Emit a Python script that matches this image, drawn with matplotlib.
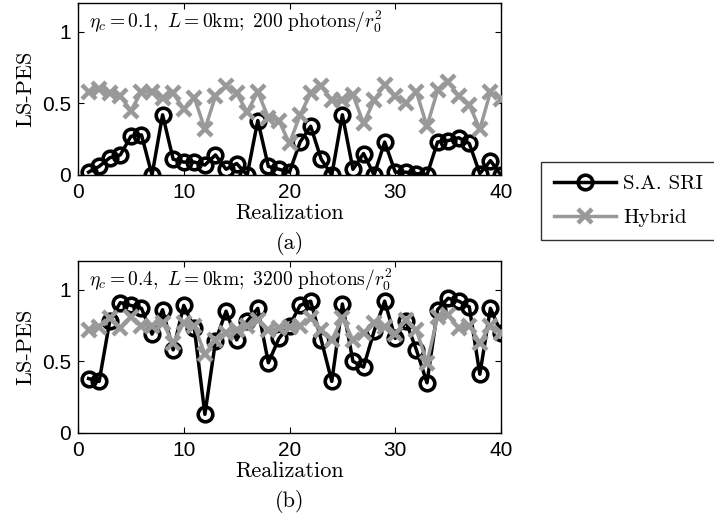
import matplotlib
matplotlib.use("Agg")
import matplotlib.pyplot as plt

plt.rcParams["mathtext.fontset"] = "cm"

realization = list(range(1, 41))

sri_a = [0.02, 0.06, 0.12, 0.14, 0.27, 0.28, 0.00, 0.42, 0.11, 0.09,
         0.09, 0.07, 0.14, 0.04, 0.08, 0.00, 0.38, 0.06, 0.04, 0.02,
         0.23, 0.34, 0.11, 0.00, 0.42, 0.04, 0.15, 0.00, 0.23, 0.02,
         0.02, 0.01, 0.00, 0.23, 0.24, 0.26, 0.22, 0.01, 0.10, 0.00]
hybrid_a = [0.58, 0.60, 0.57, 0.55, 0.45, 0.58, 0.58, 0.54, 0.57, 0.46,
            0.54, 0.32, 0.55, 0.62, 0.57, 0.44, 0.58, 0.40, 0.38, 0.22,
            0.42, 0.57, 0.62, 0.52, 0.52, 0.56, 0.36, 0.52, 0.63, 0.55,
            0.50, 0.58, 0.34, 0.59, 0.65, 0.55, 0.49, 0.32, 0.58, 0.53]

sri_b = [0.38, 0.36, 0.78, 0.91, 0.89, 0.87, 0.69, 0.86, 0.58, 0.89,
         0.73, 0.13, 0.64, 0.85, 0.65, 0.78, 0.87, 0.49, 0.66, 0.75,
         0.89, 0.92, 0.65, 0.36, 0.90, 0.50, 0.46, 0.71, 0.92, 0.66,
         0.78, 0.58, 0.35, 0.86, 0.94, 0.92, 0.88, 0.41, 0.87, 0.70]
hybrid_b = [0.72, 0.74, 0.80, 0.73, 0.81, 0.75, 0.75, 0.77, 0.63, 0.77,
            0.75, 0.55, 0.65, 0.70, 0.72, 0.75, 0.79, 0.72, 0.73, 0.74,
            0.75, 0.80, 0.72, 0.65, 0.80, 0.65, 0.70, 0.77, 0.74, 0.69,
            0.79, 0.72, 0.49, 0.81, 0.82, 0.73, 0.75, 0.63, 0.75, 0.70]

panels = [
    (sri_a, hybrid_a, r"$\eta_c = 0.1,\ L = 0\mathrm{km};\ 200\ \mathrm{photons}/r_0^2$", "(a)"),
    (sri_b, hybrid_b, r"$\eta_c = 0.4,\ L = 0\mathrm{km};\ 3200\ \mathrm{photons}/r_0^2$", "(b)"),
]

W, H = 714, 531
fig = plt.figure(figsize=(W / 100, H / 100), dpi=100)

gray = "#999999"
serif = "cmr10"
tick_font = "Liberation Sans"

axes_px = [(3, 175), (261, 433)]
handles = None
for (sri, hyb, note, tag), (top, bot) in zip(panels, axes_px):
    ax = fig.add_axes([78 / W, 1 - bot / H, 423 / W, (bot - top) / H])
    l1, = ax.plot(realization, sri, color="black", lw=2.5, marker="o", ms=10.5,
                  mfc="none", mec="black", mew=2.6, zorder=3)
    l2, = ax.plot(realization, hyb, color=gray, lw=2.5, marker="x", ms=9.5,
                  mew=3.2, zorder=4)
    handles = (l1, l2)
    ax.set_xlim(0, 40)
    ax.set_ylim(0, 1.2)
    ax.set_xticks([0, 10, 20, 30, 40])
    ax.set_yticks([0, 0.5, 1])
    ax.set_yticklabels(["0", "0.5", "1"])
    ax.tick_params(direction="in", top=True, right=True, length=4, width=0.8,
                   labelsize=15, pad=5)
    ax.tick_params(axis="x", pad=6)
    for lab in ax.get_xticklabels() + ax.get_yticklabels():
        lab.set_family(tick_font)
    for sp in ax.spines.values():
        sp.set_linewidth(1.0)
    ax.set_xlabel("Realization", family=serif, fontsize=16, labelpad=1)
    ax.set_ylabel("LS-PES", family=serif, fontsize=16, labelpad=5)
    ax.text(0.025, 0.965, note, transform=ax.transAxes, fontsize=14,
            va="top", ha="left")
    ax.text(0.5, -0.33, tag, transform=ax.transAxes, family=serif,
            fontsize=16, ha="center", va="top")

leg = fig.legend(handles, ["S.A. SRI", "Hybrid"], loc="upper left",
                 bbox_to_anchor=(541 / W, 1 - 162 / H), frameon=True,
                 fancybox=False, edgecolor="black", handlelength=3.0,
                 handletextpad=0.35, prop={"family": serif, "size": 15},
                 borderpad=0.6, labelspacing=0.75, borderaxespad=0)
leg.get_frame().set_linewidth(1.0)

fig.savefig("out.png", dpi=100)
